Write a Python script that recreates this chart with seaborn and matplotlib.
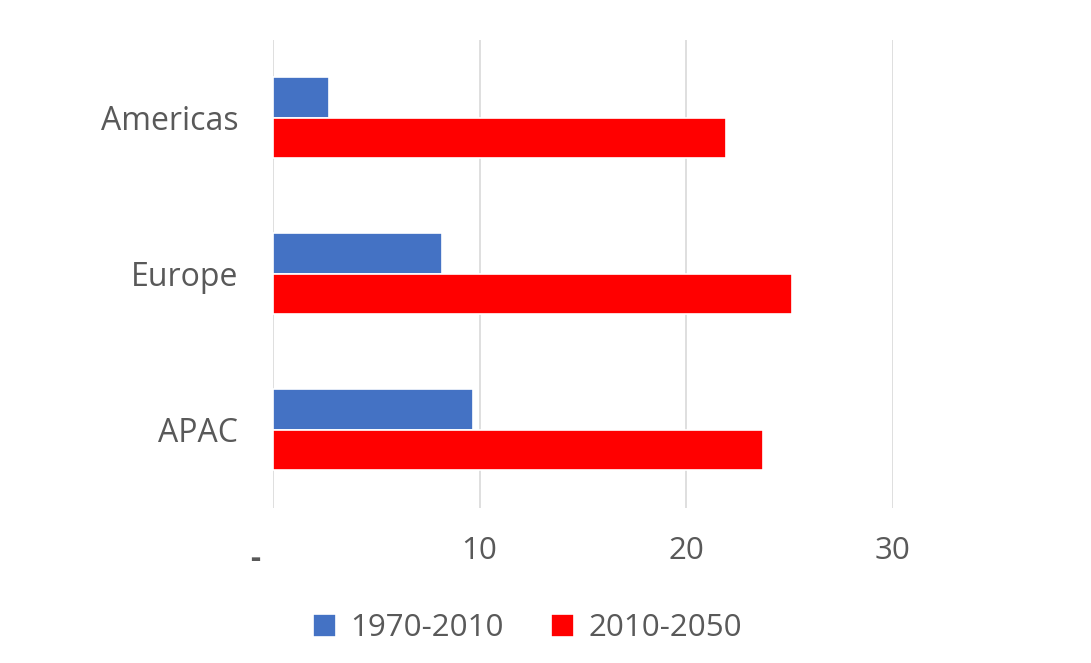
import numpy as np
import pandas as pd
import seaborn as sns
import matplotlib.pyplot as plt
import matplotlib.transforms as mtransforms

regions = ['Americas', 'Europe', 'APAC']
series = ['1970-2010', '2010-2050']
vals_1970_2010 = [2.7, 8.2, 9.7]
vals_2010_2050 = [21.9, 25.1, 23.7]
xticks = [0, 10, 20, 30]
xticklabels = ['-', '10', '20', '30']

df = pd.DataFrame({
    'region': regions * 2,
    'period': [series[0]] * 3 + [series[1]] * 3,
    'value': vals_1970_2010 + vals_2010_2050,
})

sns.set_theme(style='white')
plt.rcParams['font.family'] = ['Open Sans', 'DejaVu Sans']
txt = '#595959'

fig = plt.figure(figsize=(10.91, 6.63), dpi=100)
ax = fig.add_axes([0.2502, 0.234, 0.5683, 0.706])

sns.barplot(data=df, y='region', x='value', hue='period', order=regions,
            hue_order=series, palette=['#4472C4', '#FF0000'], orient='h',
            width=0.52, edgecolor='white', linewidth=1.2, ax=ax, saturation=1)

ax.set_xlim(0, 30)
ax.set_ylim(2.5, -0.5)
ax.set_xticks(xticks)
ax.set_xticklabels(xticklabels)
ax.xaxis.grid(True, color='#d9d9d9', linewidth=1.2)
ax.set_axisbelow(True)
for s in ax.spines.values():
    s.set_visible(False)
ax.set_xlabel('')
ax.set_ylabel('')
ax.tick_params(axis='x', length=0, pad=20, labelsize=22.5, labelcolor=txt)
ax.tick_params(axis='y', length=0, pad=25, labelsize=23, labelcolor=txt)

# the "-" (zero) label sits left of the axis and a little lower
dash = ax.get_xticklabels()[0]
dash.set_fontweight('bold')
dash.set_transform(dash.get_transform() +
                   mtransforms.ScaledTranslation(-0.18, -0.08, fig.dpi_scale_trans))

ax.legend(loc='upper center', bbox_to_anchor=(0.41, -0.165), ncol=2,
          frameon=False, fontsize=22.5, labelcolor=txt, handlelength=0.75,
          handleheight=0.75, handletextpad=0.45, columnspacing=1.5)

fig.savefig('out.png', dpi=100)
